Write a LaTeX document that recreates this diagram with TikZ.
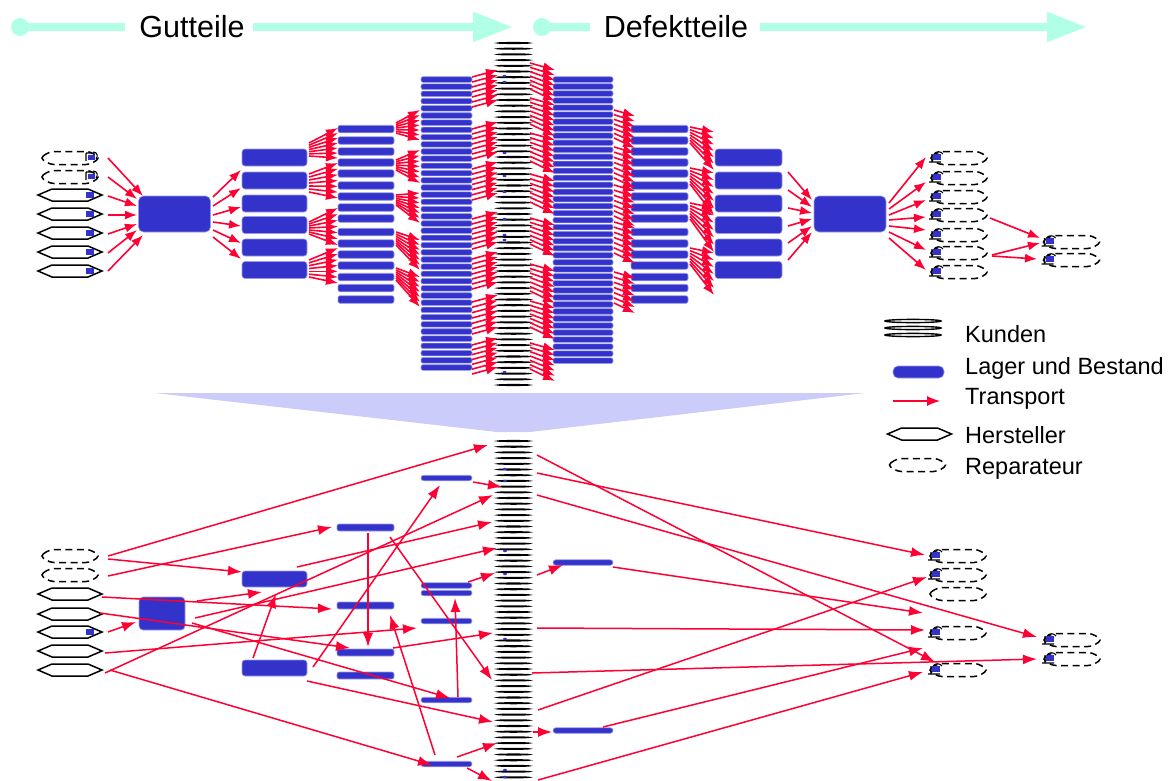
\documentclass[tikz,border=0pt]{standalone}
\usepackage{fontspec}
\setmainfont{Liberation Sans}
\usetikzlibrary{arrows.meta}
\definecolor{bl}{RGB}{51,51,204}
\definecolor{rd}{RGB}{255,0,51}
\definecolor{mint}{RGB}{178,255,232}
\definecolor{lav}{RGB}{204,204,250}
\tikzset{
  lager/.style={fill=bl, draw=bl!50!white, line width=0.6pt, rounded corners=2pt, inner sep=0pt, outer sep=0pt},
  fa/.style={draw=rd, line width=1.6pt, -{Latex[length=12pt,width=9pt]}},
  tr/.style={draw=rd, line width=1.5pt, -{Latex[length=14pt,width=10pt]}},
  mintline/.style={draw=mint, line width=8pt},
  kund/.style={draw=black, line width=1.1pt},
  lbl/.style={font=\fontsize{30.5}{36}\selectfont, inner sep=0pt},
  leg/.style={font=\fontsize{23.5}{28}\selectfont, inner sep=0pt, anchor=base west},
  herst/.pic={\draw[black, line width=1.5pt, line join=miter] (-32,0) -- (-18,-6) -- (18,-6) -- (32,0) -- (18,6) -- (-18,6) -- cycle;},
  repa/.pic={\draw[black, line width=1.5pt, dash pattern=on 7pt off 4.5pt, rounded corners=4pt] (-30,0) -- (-20,-6.5) -- (20,-6.5) -- (30,0) -- (20,6.5) -- (-20,6.5) -- cycle;},
  sqH/.pic={\fill[bl] (16,-3) rectangle (24,2.5);},
  scrR/.pic={\fill[bl] (18,-3.5) rectangle (25,2);
     \draw[black, line width=1.1pt] (16,-5) -- (16,3) (16,-5) -- (22,-5) (23,-6) .. controls (28,-6) and (28,-1) .. (26,1);},
  scrL/.pic={\fill[bl] (-26,-4) rectangle (-18,2);
     \draw[black, line width=1.1pt] (-30,4) -- (-18,4) (-27,-4) -- (-27,4) (-25,-4) .. controls (-23,-7) and (-18,-7) .. (-16,-4);}
}
\newcommand\myfan[7]{%
  \foreach \k in {1,...,#7}{%
    \pgfmathsetmacro\ya{#2+(#3-#2)*(\k-1)/(#7-1)}%
    \pgfmathsetmacro\yb{#5+(#6-#5)*(\k-1)/(#7-1)}%
    \draw[fa] (#1,\ya) -- (#4,\yb);
  }}
\begin{document}
\begin{tikzpicture}[x=1pt,y=-1pt]
\useasboundingbox (0,0) rectangle (1176,780);

% ---------- top flow labels ----------
\node[circle, fill=mint, minimum size=18pt, inner sep=0pt] (g0) at (20,27) {};
\node[lbl] (gut) at (192,27) {Gutteile};
\coordinate (gend) at (513,27);
\draw[mintline, shorten >=14pt] (g0.center) -- (gut.west);
\draw[mintline, shorten <=8pt, -{Triangle[length=40pt,width=28pt]}] (gut.east) -- (gend);
\node[circle, fill=mint, minimum size=18pt, inner sep=0pt] (d0) at (542,27) {};
\node[lbl] (def) at (676,27) {Defektteile};
\coordinate (dend) at (1087,27);
\draw[mintline, shorten >=14pt] (d0.center) -- (def.west);
\draw[mintline, shorten <=12pt, -{Triangle[length=40pt,width=28pt]}] (def.east) -- (dend);

% ---------- upper network: left ----------
\foreach \i/\y in {1/158,2/177}{
  \coordinate (ls\i) at (70,\y);
  \pic at (ls\i) {repa}; \pic at (ls\i) {scrR};}
\foreach \i/\y in {3/195,4/214,5/233,6/252,7/271}{
  \coordinate (ls\i) at (70,\y);
  \pic at (ls\i) {herst}; \pic at (ls\i) {sqH};}
\node[lager, rounded corners=5pt, minimum width=72pt, minimum height=36pt] (LB) at (174.5,214) {};
\foreach \i/\y in {1/157.5,2/180.5,3/203.5,4/225,5/247.5,6/270}{
  \node[lager, rounded corners=3pt, minimum width=65pt, minimum height=17pt] (L6-\i) at (274.5,\y) {};
  \node[lager, rounded corners=3pt, minimum width=67pt, minimum height=17pt] (R6-\i) at (748.5,\y) {};}
\foreach \i/\y in {1/129,2/140.5,3/151.5,4/162.5,5/173.5,6/185.5,7/196.5,8/207.5,9/218.5,10/232,11/243.5,12/254.5,13/265.5,14/277,15/288,16/299.5}{
  \node[lager, minimum width=56pt, minimum height=7.5pt] (L16-\i) at (366,\y) {};
  \node[lager, minimum width=57pt, minimum height=7.5pt] (R16-\i) at (659.5,\y) {};}
\foreach \i in {1,...,41}{
  \pgfmathsetmacro\yy{79.5+(\i-1)*7.2}
  \node[lager, minimum width=51pt, minimum height=5.6pt] (L40-\i) at (446.5,\yy) {};
  \pgfmathsetmacro\yr{79.5+(\i-1)*7.03}
  \node[lager, minimum width=60pt, minimum height=5.6pt] (R40-\i) at (583,\yr) {};}
\node[lager, rounded corners=5pt, minimum width=72pt, minimum height=36pt] (RB) at (850,214) {};

% Kunden column (upper)
\coordinate (KU) at (513.5,214);
\foreach \y in {43,48.7,...,386}{\draw[kund] (513.5,\y) ellipse [x radius=16, y radius=0.5];}
\foreach \y in {76,82,153,176,192,219,235,240,372}{\fill[bl] (504.5,\y) ellipse [x radius=2, y radius=1.2];}

% sources -> LB
\foreach \y/\t in {158/196,177/199,196/206,215/215,234/224,253/230,271/235}{
  \pgfmathsetmacro\xt{(\t==196 || \t==235) ? 143 : 137}
  \draw[fa] (108,\y) -- (\xt,\t);}
% LB -> L6
\foreach \s/\t in {197/170,206/188,215/207,222/226,230/243,237/259}{
  \draw[fa] (213,\s) -- (241,\t);}
% L6 -> L16
\myfan{309}{143}{156}{338}{128}{158}{7}
\myfan{309}{174}{192}{338}{163}{198}{7}
\myfan{309}{222}{234}{338}{208}{245}{7}
\myfan{309}{260}{277}{338}{248}{283}{7}
% L16 -> L40
\myfan{396}{123}{133}{420}{110}{140}{7}
\myfan{396}{160}{170}{420}{150}{183}{7}
\myfan{396}{195}{205}{420}{193}{223}{7}
\myfan{396}{232}{245}{420}{240}{270}{7}
\myfan{396}{268}{280}{420}{277}{307}{7}
% L40 -> Kunden
\foreach \a/\b in {70/100,122/152,162/193,212/242,252/282,295/327,338/367}{
  \myfan{472}{\a+7}{\b-7}{498}{\a}{\b}{7}}
% Kunden -> R40
\foreach \a/\b in {67/95,102/130,137/167,178/208,222/250,268/297,305/333,347/375}{
  \myfan{530}{\a-4}{\b+2}{555}{\a+3}{\b}{7}}
% R40 -> R16
\foreach \a/\b in {113/142,150/182,188/220,225/257,275/307}{
  \myfan{614}{\a-3}{\b+2}{635}{\a+3}{\b}{7}}
% R16 -> R6
\foreach \a/\b in {127/160,168/205,203/242,248/285}{
  \myfan{690}{\a}{\a+16}{714}{\a+5}{\b}{7}}
% R6 -> RB
\foreach \s/\t in {172/200,190/207,208/213,226/219,243/226,260/232}{
  \draw[fa] (788,\s) -- (812,\t);}
% RB -> repairers
\foreach \i/\y in {1/158,2/178,3/197,4/215,5/235,6/253,7/272}{
  \coordinate (rd\i) at (959,\y);
  \pic at (rd\i) {repa}; \pic at (rd\i) {scrL};}
\foreach \s/\t in {203/157,209/182,215/200,220/217,226/230,232/250,238/270}{
  \draw[fa] (889,\s) -- (926,\t);}
\foreach \i/\y in {1/242,2/260}{
  \coordinate (fr\i) at (1071.5,\y);
  \pic at (fr\i) {repa}; \pic at (fr\i) {scrL};}
\draw[fa] (990,218) -- (1040,238);
\draw[fa] (992,255) -- (1040,243);
\draw[fa] (992,256) -- (1037,259);

% ---------- legend ----------
\foreach \y in {321,328,335}{\draw[line width=1.4pt] (913,\y) ellipse [x radius=28, y radius=1.6];}
\node[leg] (tK) at (965,342) {Kunden};
\node[fill=bl, draw=bl!50!white, line width=0.6pt, rounded corners=5pt, minimum width=51pt, minimum height=12pt, inner sep=0pt] (lgL) at (918.5,372) {};
\node[leg] (tL) at (965,374) {Lager und Bestand};
\coordinate (lgT1) at (893,401); \coordinate (lgT2) at (940,401);
\draw[draw=rd, line width=1.2pt, -{Latex[length=13pt,width=10pt]}] (lgT1) -- (lgT2);
\node[leg] (tT) at (965,404) {Transport};
\pic at (919.5,434) {herst};
\node[leg] (tH) at (965,443) {Hersteller};
\pic at (917.5,465) {repa};
\node[leg] (tR) at (965,474) {Reparateur};

% ---------- funnel ----------
\fill[lav] (155,393) -- (865,393) -- (530,432) -- (497,432) -- cycle;

% ---------- lower network ----------
\foreach \i/\y in {1/556,2/575}{\coordinate (ms\i) at (70,\y); \pic at (ms\i) {repa};}
\foreach \i/\y in {3/594,4/614,5/632,6/651,7/670}{\coordinate (ms\i) at (70,\y); \pic at (ms\i) {herst};}
\pic at (ms5) {sqH};
\node[lager, rounded corners=4pt, minimum width=46pt, minimum height=33pt] (mB) at (162,613.5) {};
\node[lager, rounded corners=3pt, minimum width=65pt, minimum height=16pt] (mA1) at (274.5,579) {};
\node[lager, rounded corners=3pt, minimum width=65pt, minimum height=16pt] (mA2) at (274.5,668) {};
\foreach \i/\y in {1/527.5,2/605.5,3/652.5,4/675.5}{
  \node[lager, minimum width=57pt, minimum height=7pt] (mC\i) at (365.5,\y) {};}
\foreach \i/\y in {1/478,2/585.5,3/593,4/621,5/700,6/764}{
  \node[lager, rounded corners=2.7pt, minimum width=51pt, minimum height=5.5pt] (mD\i) at (446.5,\y) {};}
\foreach \i/\y in {1/562.5,2/730.5}{
  \node[lager, rounded corners=2.7pt, minimum width=60pt, minimum height=5.5pt] (mE\i) at (583,\y) {};}
\coordinate (KL) at (513.5,610);
\foreach \y in {441,446.7,...,782}{\draw[kund] (513.5,\y) ellipse [x radius=16, y radius=0.5];}
\foreach \y in {469,481,551,574,639,770,777}{\fill[bl] (505,\y) ellipse [x radius=2, y radius=1.2];}
\foreach \i/\y in {1/556,2/575,3/594,4/633,5/670}{\coordinate (mr\i) at (958,\y); \pic at (mr\i) {repa};}
\foreach \i in {1,2,4,5}{\pic at (mr\i) {scrL};}
\foreach \i/\y in {1/640,2/659}{\coordinate (mf\i) at (1072,\y); \pic at (mf\i) {repa}; \pic at (mf\i) {scrL};}

% lower transports, left of Kunden
\draw[tr] (108,556) -- (488,445);
\draw[tr] (108,559) -- (242,572);
\draw[tr] (108,576) -- (332,527);
\draw[tr] (102,597) -- (332,609);
\draw[tr] (108,632) -- (136,622);
\draw[tr] (100,613) -- (350,648);
\draw[tr] (105,653) -- (417,628);
\draw[tr] (105,673) -- (493,495);
\draw[tr] (110,670) -- (432,765);
\draw[tr] (197,601) -- (262,592);
\draw[tr] (195,618) -- (497,548);
\draw[tr] (192,623) -- (450,698);
\draw[tr] (297,567) -- (492,522);
\draw[tr] (253,658) -- (276,594);
\draw[tr] (313,667) -- (440,485);
\draw[tr] (307,681) -- (493,722);
\draw[tr] (368,533) -- (368,647);
\draw[tr] (390,537) -- (492,680);
\draw[tr] (393,648) -- (493,633);
\draw[tr] (435,755) -- (390,615);
\draw[tr] (458,697) -- (455,598);
\draw[tr] (473,482) -- (502,487);
\draw[tr] (468,582) -- (495,573);
\draw[tr] (457,757) -- (497,743);
\draw[tr] (467,768) -- (492,781);
% right of Kunden
\draw[tr] (537,455) -- (935,662);
\draw[tr] (537,473) -- (925,555);
\draw[tr] (537,495) -- (1037,637);
\draw[tr] (537,575) -- (563,565);
\draw[tr] (613,567) -- (923,613);
\draw[tr] (537,628) -- (925,630);
\draw[tr] (532,673) -- (1037,659);
\draw[tr] (538,710) -- (927,577);
\draw[tr] (533,732) -- (552,732);
\draw[tr] (603,727) -- (923,648);
\draw[tr] (538,780) -- (923,672);
\end{tikzpicture}
\end{document}
